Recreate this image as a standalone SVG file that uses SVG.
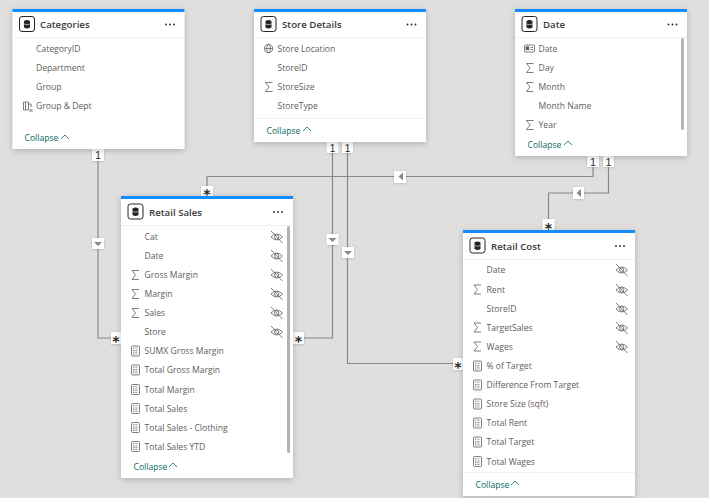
<svg xmlns="http://www.w3.org/2000/svg" xmlns:xlink="http://www.w3.org/1999/xlink" width="709" height="498" viewBox="0 0 709 498">
<style>
text{font-family:"Open Sans","Noto Sans","Liberation Sans",sans-serif}
.card{fill:#fff;filter:url(#sh)}
.bar{fill:#118dff}
.sep{stroke:#f0efee;stroke-width:1}
.title{font-size:9.700px;font-weight:600;fill:#3b3a39}
.f{font-size:8.600px;fill:#605e5c}
.col{font-size:8.600px;fill:#0b6a60}
.dots{fill:#252423}
.scroll{fill:#b4b3b2}
.conn{fill:none;stroke:#8a8886;stroke-width:1.2}
.tag{fill:#fff;filter:url(#sh2)}
.k{font-size:10px;fill:#252423;text-anchor:middle;font-family:"Liberation Sans",sans-serif}
.s{font-size:14px;font-weight:700;fill:#252423;text-anchor:middle;font-family:"DejaVu Sans",sans-serif}
.ar{fill:#8a8886}
.ic{fill:none;stroke:#605e5c;stroke-width:.8}
</style>
<defs>
<filter id="sh" x="-10%" y="-10%" width="120%" height="120%"><feDropShadow dx="0" dy="1.5" stdDeviation="3" flood-color="#000" flood-opacity=".22"/></filter>
<filter id="sh2" x="-30%" y="-30%" width="160%" height="160%"><feDropShadow dx="0" dy=".5" stdDeviation=".8" flood-color="#000" flood-opacity=".2"/></filter>
<g id="tbl">
<rect x="0" y="0" width="15" height="15" rx="2.500" fill="#fff" stroke="#252423" stroke-width="1"/>
<path d="M4.500 4.500q3-2.200 6 0v6.500q-3 1.800-6 0z" fill="#252423"/>
<path d="M4.500 7.500q3 1.500 6 0" stroke="#fff" stroke-width=".6" fill="none"/>
</g>
<g id="dots"><circle cx="0" cy="0" r=".9" class="dots"/><circle cx="4" cy="0" r=".9" class="dots"/><circle cx="8" cy="0" r=".9" class="dots"/></g>
<path id="sig" class="ic" d="M7.500 0H0.500L4 4.500 0.500 9H7.500"/>
<g id="eye" class="ic"><path d="M0.500 5Q6 -1 12 5Q6.500 11 0.500 5Z"/><circle cx="6.200" cy="5" r="2.200"/><path d="M0.500 -1L12 11"/></g>
<g id="calc" class="ic"><rect x="0" y="0" width="8" height="10" rx="1"/><path d="M1.500 2.200H6.500M1.500 4.500H6.500M1.500 6.200H6.500M1.500 8H6.500" stroke-dasharray="1 .6"/></g>
<g id="globe" class="ic"><circle cx="4.500" cy="4.500" r="4.200"/><ellipse cx="4.500" cy="4.500" rx="1.800" ry="4.200"/><path d="M.5 4.500H8.500"/></g>
<g id="card" class="ic"><rect x="0" y="0" width="10" height="7" rx="1"/><rect x="1.500" y="1.800" width="2.800" height="3" fill="#605e5c"/><path d="M6 2.500H8.500M6 4.500H8.500"/></g>
<g id="hier" class="ic"><path d="M1 1H6V9H1ZM3 1V9M6 3H8.500V6M7 8L10 11M10 8L7 11"/></g>
<path id="up" d="M0 4L4 0 8 4" fill="none" stroke="#0b6a60" stroke-width=".8"/>
</defs>
<rect width="709" height="498" fill="#e1dfdd"/>

<g id="connectors">
<path class="conn" d="M98 150V338H112"/>
<path class="conn" d="M332.500 142V338H293"/>
<path class="conn" d="M347.500 142V363.500H454"/>
<path class="conn" d="M593 156V176.500H207V190"/>
<path class="conn" d="M608.500 156V193H548.500V224"/>
<rect class="tag" x="92" y="149" width="12" height="12"/><text class="k" x="98" y="159">1</text>
<rect class="tag" x="326.500" y="142" width="12" height="11"/><text class="k" x="332.500" y="151.500">1</text>
<rect class="tag" x="342" y="142" width="11" height="11"/><text class="k" x="347.500" y="151.500">1</text>
<rect class="tag" x="587" y="156" width="12" height="11"/><text class="k" x="593" y="165.500">1</text>
<rect class="tag" x="603" y="156" width="11" height="11"/><text class="k" x="608.500" y="165.500">1</text>
<rect class="tag" x="201" y="186" width="12" height="11"/><text class="s" x="207" y="198.500">*</text>
<rect class="tag" x="542.500" y="219" width="12" height="11"/><text class="s" x="548.500" y="233">*</text>
<rect class="tag" x="111" y="332" width="10" height="12"/><text class="s" x="116" y="345.500">*</text>
<rect class="tag" x="293" y="332" width="11" height="12"/><text class="s" x="298.500" y="345.500">*</text>
<rect class="tag" x="453" y="358" width="10" height="12"/><text class="s" x="458" y="371.500">*</text>
<rect class="tag" x="92" y="238" width="12" height="11"/><path class="ar" d="M94 242H102L98 246Z"/>
<rect class="tag" x="326.500" y="234" width="12" height="11"/><path class="ar" d="M328.500 238H336.500L332.500 242Z"/>
<rect class="tag" x="342" y="247" width="12" height="11"/><path class="ar" d="M344 251H352L348 255Z"/>
<rect class="tag" x="394" y="171" width="12" height="12"/><path class="ar" d="M403 172.500V180.500L398.500 176.500Z"/>
<rect class="tag" x="573" y="187" width="11" height="12"/><path class="ar" d="M581 189V197L576.500 193Z"/>
</g>

<g id="categories">
<rect class="card" x="12.500" y="9" width="172" height="140"/><rect class="bar" x="12.500" y="9" width="172" height="3"/>
<use xlink:href="#tbl" x="19.500" y="16.500"/><text class="title" x="40" y="28">Categories</text><use xlink:href="#dots" x="166" y="24.500"/>
<path class="sep" d="M12.500 37.500H184.500"/>
<text class="f" x="36" y="52">CategoryID</text>
<text class="f" x="36" y="71">Department</text>
<text class="f" x="36" y="90">Group</text>
<use xlink:href="#hier" x="22.500" y="101"/><text class="f" x="36" y="109">Group &amp; Dept</text>
<text class="col" x="24.500" y="141">Collapse</text><use xlink:href="#up" x="61" y="135"/>
</g>

<g id="store-details">
<rect class="card" x="254" y="9" width="172" height="133"/><rect class="bar" x="254" y="9" width="172" height="3"/>
<use xlink:href="#tbl" x="261" y="16.500"/><text class="title" x="282" y="28">Store Details</text><use xlink:href="#dots" x="407.500" y="24.500"/>
<path class="sep" d="M254 37.500H426M254 118.500H426"/>
<use xlink:href="#globe" x="264" y="44"/><text class="f" x="277.500" y="52">Store Location</text>
<text class="f" x="277.500" y="71">StoreID</text>
<use xlink:href="#sig" x="265" y="82.500"/><text class="f" x="277.500" y="90">StoreSize</text>
<text class="f" x="277.500" y="109">StoreType</text>
<text class="col" x="266.500" y="134">Collapse</text><use xlink:href="#up" x="303" y="127"/>
</g>

<g id="date">
<rect class="card" x="515" y="9" width="172" height="147"/><rect class="bar" x="515" y="9" width="172" height="3"/>
<use xlink:href="#tbl" x="522" y="16.500"/><text class="title" x="543" y="28">Date</text><use xlink:href="#dots" x="668.500" y="24.500"/>
<path class="sep" d="M515 37.500H687"/>
<use xlink:href="#card" x="524.500" y="45"/><text class="f" x="538.500" y="52">Date</text>
<use xlink:href="#sig" x="526" y="63.500"/><text class="f" x="538.500" y="71">Day</text>
<use xlink:href="#sig" x="526" y="82.500"/><text class="f" x="538.500" y="90">Month</text>
<text class="f" x="538.500" y="109">Month Name</text>
<use xlink:href="#sig" x="526" y="120.500"/><text class="f" x="538.500" y="128">Year</text>
<rect class="scroll" x="681" y="38" width="3" height="92" rx="1.500"/>
<text class="col" x="527.500" y="148">Collapse</text><use xlink:href="#up" x="564" y="141"/>
</g>

<g id="retail-sales">
<rect class="card" x="121" y="196" width="172" height="282"/><rect class="bar" x="121" y="196" width="172" height="3"/>
<use xlink:href="#tbl" x="128" y="204"/><text class="title" x="149" y="216">Retail Sales</text><use xlink:href="#dots" x="274" y="212"/>
<path class="sep" d="M121 225.500H293"/>
<text class="f" x="144.500" y="240">Cat</text>
<text class="f" x="144.500" y="259">Date</text>
<use xlink:href="#sig" x="131.500" y="270.500"/><text class="f" x="144.500" y="278">Gross Margin</text>
<use xlink:href="#sig" x="131.500" y="289.500"/><text class="f" x="144.500" y="297">Margin</text>
<use xlink:href="#sig" x="131.500" y="308.500"/><text class="f" x="144.500" y="316">Sales</text>
<text class="f" x="144.500" y="335">Store</text>
<use xlink:href="#calc" x="131.500" y="346"/><text class="f" x="144.500" y="354">SUMX Gross Margin</text>
<use xlink:href="#calc" x="131.500" y="365"/><text class="f" x="144.500" y="373">Total Gross Margin</text>
<use xlink:href="#calc" x="131.500" y="384.500"/><text class="f" x="144.500" y="393">Total Margin</text>
<use xlink:href="#calc" x="131.500" y="403.500"/><text class="f" x="144.500" y="412">Total Sales</text>
<use xlink:href="#calc" x="131.500" y="422.500"/><text class="f" x="144.500" y="431">Total Sales - Clothing</text>
<use xlink:href="#calc" x="131.500" y="441.500"/><text class="f" x="144.500" y="450">Total Sales YTD</text>
<use xlink:href="#eye" x="270.500" y="232"/><use xlink:href="#eye" x="270.500" y="251"/><use xlink:href="#eye" x="270.500" y="270"/><use xlink:href="#eye" x="270.500" y="289"/><use xlink:href="#eye" x="270.500" y="308"/><use xlink:href="#eye" x="270.500" y="327"/>
<rect class="scroll" x="287" y="226" width="3" height="227" rx="1.500"/>
<text class="col" x="133.500" y="470">Collapse</text><use xlink:href="#up" x="169" y="463"/>
</g>

<g id="retail-cost">
<rect class="card" x="463" y="230" width="172" height="266"/><rect class="bar" x="463" y="230" width="172" height="3"/>
<use xlink:href="#tbl" x="470" y="238"/><text class="title" x="491" y="250">Retail Cost</text><use xlink:href="#dots" x="616" y="246"/>
<path class="sep" d="M463 259.500H635M463 472.500H635"/>
<text class="f" x="486.500" y="273">Date</text>
<use xlink:href="#sig" x="473.500" y="285"/><text class="f" x="486.500" y="293">Rent</text>
<text class="f" x="486.500" y="312">StoreID</text>
<use xlink:href="#sig" x="473.500" y="323"/><text class="f" x="486.500" y="331">TargetSales</text>
<use xlink:href="#sig" x="473.500" y="342"/><text class="f" x="486.500" y="350">Wages</text>
<use xlink:href="#calc" x="473.500" y="361"/><text class="f" x="486.500" y="369">% of Target</text>
<use xlink:href="#calc" x="473.500" y="380"/><text class="f" x="486.500" y="388">Difference From Target</text>
<use xlink:href="#calc" x="473.500" y="399"/><text class="f" x="486.500" y="407">Store Size (sqft)</text>
<use xlink:href="#calc" x="473.500" y="418"/><text class="f" x="486.500" y="426">Total Rent</text>
<use xlink:href="#calc" x="473.500" y="437"/><text class="f" x="486.500" y="445">Total Target</text>
<use xlink:href="#calc" x="473.500" y="456.500"/><text class="f" x="486.500" y="465">Total Wages</text>
<use xlink:href="#eye" x="615.500" y="265"/><use xlink:href="#eye" x="615.500" y="285"/><use xlink:href="#eye" x="615.500" y="304"/><use xlink:href="#eye" x="615.500" y="323"/><use xlink:href="#eye" x="615.500" y="342"/>
<text class="col" x="475.500" y="488">Collapse</text><use xlink:href="#up" x="511" y="481"/>
</g>
</svg>
